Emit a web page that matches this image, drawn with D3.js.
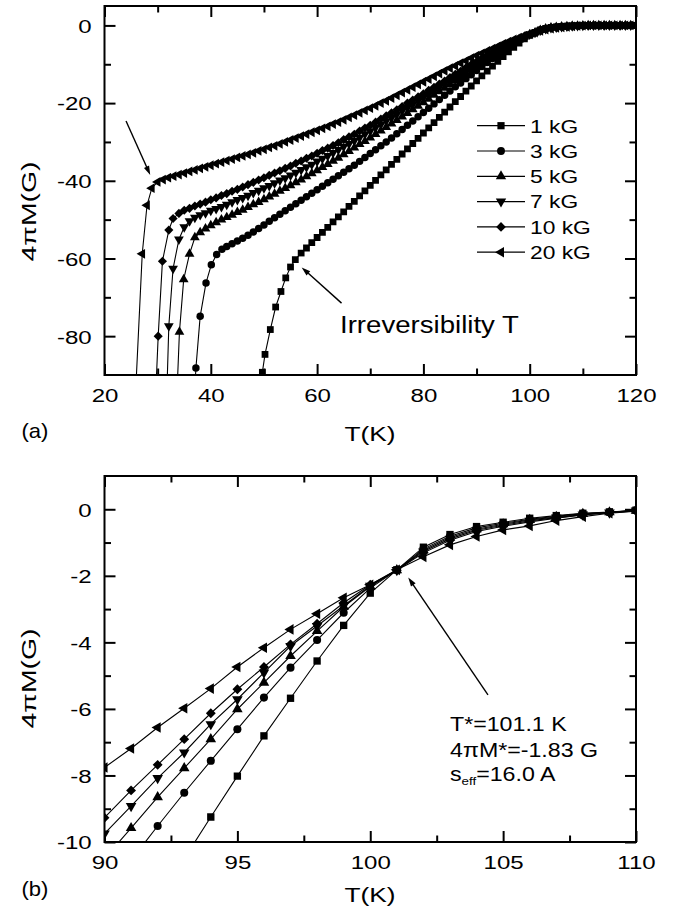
<!DOCTYPE html>
<html><head><meta charset="utf-8">
<script src="https://cdn.jsdelivr.net/npm/d3@7"></script>
<style>
body{margin:0;background:#fff}
svg{display:block}
text{font-family:"Liberation Sans",Arial,Helvetica,sans-serif;fill:#000}
</style>
</head><body>
<svg id="c" width="673" height="916"></svg>
<script>
// ---------------- DATA ----------------
const fields = ["1 kG", "3 kG", "5 kG", "7 kG", "10 kG", "20 kG"];

// Panel (a): low-temperature part [T (K), 4piM (G)]
const low1 = [[49.4,-96],[49.7,-89.3],[50.2,-84.7],[51.2,-78.3],[52.2,-72.5],[53.2,-68.5],[54.1,-65.0],[55.0,-62.2],[55.9,-60.3],
 [57,-58.6],[58,-57.3],[59,-55.9],[60,-54.6],[61,-53.3],[62,-52.0],[63,-50.6],[64,-49.3],[65,-48.0],[66,-46.6],[67,-45.3],
 [68,-43.9],[69,-42.6],[70,-41.2],[71,-39.9],[72,-38.5],[73,-37.2],[74,-35.8],[75,-34.5],[76,-33.1],[77,-31.8],[78,-30.4],
 [79,-29.1],[80,-27.7],[81,-26.4],[82,-25.0],[83,-23.7],[84,-22.3],[85,-21.0],[86,-19.6],[87,-18.3],[88,-16.9],[89,-15.6]];
const low3 = [[36.9,-96],[37.2,-88.2],[38.0,-74.9],[39.1,-66.3],[40.1,-61.6],[41.1,-59.0],[42.1,-57.6],
 [43,-56.9],[44,-56.2],[45,-55.5],[46,-54.8],[47,-54.0],[48,-53.2],[49,-52.3],[50,-51.4],[51,-50.4],[52,-49.5],[53,-48.6],
 [54,-47.7],[55,-46.8],[56,-45.9],[57,-45.0],[58,-44.1],[59,-43.2],[60,-42.3],[61,-41.4],[62,-40.5],[63,-39.6],[64,-38.7],
 [65,-37.8],[66,-36.9],[67,-36.0],[68,-35.0],[69,-34.0],[70,-33.0],[71,-32.0],[72,-31.0],[73,-30.0],[74,-29.0],[75,-27.9],
 [76,-26.8],[77,-25.7],[78,-24.6],[79,-23.5],[80,-22.4],[81,-21.3],[82,-20.2],[83,-19.1],[84,-18.0],[85,-16.9],[86,-15.8],
 [87,-14.8],[88,-13.7],[89,-12.7]];
const low5 = [[33.6,-96],[34.1,-78.9],[34.9,-65.4],[36.0,-58.8],[37.0,-54.6],
 [38,-53.3],[39,-52.3],[40,-51.5],[41,-50.7],[42,-50.0],[43,-49.4],[44,-48.8],[45,-48.1],[46,-47.5],[47,-46.8],[48,-46.1],
 [49,-45.5],[50,-44.8],[51,-44.1],[52,-43.4],[53,-42.6],[54,-41.9],[55,-41.2],[56,-40.4],[57,-39.7],[58,-38.9],[59,-38.1],
 [60,-37.3],[61,-36.5],[62,-35.7],[63,-34.9],[64,-34.1],[65,-33.2],[66,-32.4],[67,-31.5],[68,-30.6],[69,-29.8],[70,-28.9],
 [71,-28.0],[72,-27.1],[73,-26.2],[74,-25.3],[75,-24.4],[76,-23.5],[77,-22.6],[78,-21.6],[79,-20.7],[80,-19.8],[81,-18.9],
 [82,-17.9],[83,-17.0],[84,-16.1],[85,-15.2],[86,-14.2],[87,-13.3],[88,-12.4],[89,-11.4]];
const low7 = [[31.7,-96],[32.1,-77.4],[32.9,-62.6],[34.0,-55.1],[35.0,-51.9],[36.0,-50.4],
 [37,-49.5],[38,-48.8],[39,-48.3],[40,-47.7],[41,-47.2],[42,-46.7],[43,-46.1],[44,-45.5],[45,-44.9],[46,-44.4],[47,-43.8],
 [48,-43.1],[49,-42.5],[50,-41.9],[51,-41.3],[52,-40.6],[53,-39.9],[54,-39.3],[55,-38.6],[56,-37.9],[57,-37.2],[58,-36.5],
 [59,-35.8],[60,-35.0],[61,-34.3],[62,-33.6],[63,-32.8],[64,-32.0],[65,-31.2],[66,-30.5],[67,-29.7],[68,-28.9],[69,-28.0],
 [70,-27.2],[71,-26.3],[72,-25.5],[73,-24.6],[74,-23.8],[75,-22.9],[76,-22.0],[77,-21.2],[78,-20.3],[79,-19.4],[80,-18.6],
 [81,-17.7],[82,-16.8],[83,-15.9],[84,-15.0],[85,-14.2],[86,-13.3],[87,-12.4],[88,-11.5],[89,-10.6]];
const low10 = [[29.6,-96],[30.1,-80.0],[30.9,-60.7],[32.1,-52.7],[32.9,-49.7],
 [34,-48.4],[35,-47.6],[36,-47.1],[37,-46.5],[38,-46.0],[39,-45.5],[40,-44.9],[41,-44.4],[42,-43.8],[43,-43.3],[44,-42.7],
 [45,-42.2],[46,-41.6],[47,-41.0],[48,-40.4],[49,-39.8],[50,-39.2],[51,-38.6],[52,-38.0],[53,-37.4],[54,-36.8],[55,-36.2],
 [56,-35.5],[57,-34.9],[58,-34.2],[59,-33.6],[60,-32.9],[61,-32.2],[62,-31.6],[63,-30.9],[64,-30.2],[65,-29.4],[66,-28.7],
 [67,-28.0],[68,-27.2],[69,-26.4],[70,-25.7],[71,-24.9],[72,-24.1],[73,-23.3],[74,-22.5],[75,-21.7],[76,-20.9],[77,-20.0],
 [78,-19.2],[79,-18.4],[80,-17.6],[81,-16.7],[82,-15.9],[83,-15.1],[84,-14.3],[85,-13.4],[86,-12.6],[87,-11.8],[88,-10.9],
 [89,-10.1]];
const low20 = [[25.8,-96],[27.1,-58.8],[28.0,-46.3],[28.9,-41.9],
 [30,-40.3],[31,-39.7],[32,-39.2],[33,-38.8],[34,-38.4],[35,-38.0],[36,-37.6],[37,-37.2],[38,-36.8],[39,-36.4],[40,-36.0],
 [41,-35.6],[42,-35.2],[43,-34.8],[44,-34.4],[45,-34.0],[46,-33.6],[47,-33.2],[48,-32.8],[49,-32.3],[50,-31.9],[51,-31.4],
 [52,-31.0],[53,-30.5],[54,-30.0],[55,-29.5],[56,-29.0],[57,-28.5],[58,-28.0],[59,-27.5],[60,-27.0],[61,-26.5],[62,-26.0],
 [63,-25.4],[64,-24.9],[65,-24.3],[66,-23.7],[67,-23.1],[68,-22.5],[69,-21.9],[70,-21.3],[71,-20.7],[72,-20.0],[73,-19.4],
 [74,-18.7],[75,-18.0],[76,-17.3],[77,-16.6],[78,-15.9],[79,-15.2],[80,-14.5],[81,-13.8],[82,-13.1],[83,-12.4],[84,-11.7],
 [85,-11.0],[86,-10.4],[87,-9.7],[88,-9.1],[89,-8.4]];

// Region 90-110 K (panel b, also used in panel a)
const tempsB = [90,91,92,93,94,95,96,97,98,99,100,101,102,103,104,105,106,107,108,109,110];
const b1  = [-14.25,-13.0,-11.75,-10.5,-9.25,-8.02,-6.81,-5.68,-4.56,-3.49,-2.52,-1.82,-1.14,-0.76,-0.52,-0.39,-0.27,-0.19,-0.12,-0.08,-0.03];
const b3  = [-11.6,-10.55,-9.52,-8.52,-7.56,-6.61,-5.66,-4.76,-3.93,-3.11,-2.37,-1.83,-1.19,-0.81,-0.56,-0.42,-0.30,-0.21,-0.13,-0.09,-0.03];
const b5  = [-10.5,-9.58,-8.65,-7.78,-6.91,-6.01,-5.21,-4.41,-3.66,-2.93,-2.32,-1.83,-1.23,-0.85,-0.60,-0.45,-0.32,-0.23,-0.14,-0.09,-0.04];
const b7  = [-9.75,-8.92,-8.08,-7.31,-6.46,-5.71,-4.91,-4.11,-3.51,-2.90,-2.30,-1.83,-1.27,-0.89,-0.63,-0.48,-0.35,-0.25,-0.16,-0.10,-0.04];
const b10 = [-9.27,-8.45,-7.68,-6.91,-6.13,-5.41,-4.74,-4.06,-3.44,-2.81,-2.27,-1.83,-1.31,-0.93,-0.67,-0.51,-0.38,-0.27,-0.17,-0.10,-0.05];
const b20 = [-7.76,-7.19,-6.56,-5.98,-5.39,-4.74,-4.16,-3.61,-3.14,-2.66,-2.27,-1.82,-1.43,-1.07,-0.82,-0.62,-0.50,-0.34,-0.22,-0.12,-0.06];

// Plateau above Tc (panel a)
const plateauT = [111,112,113,114,115,116,117,118,119,120];
const plateauM = [0,0,0,0,0,0,0,0,0,0];

// Ticks
const aXTicks = [20,40,60,80,100,120], aXMinor = [30,50,70,90,110];
const aYTicks = [0,-20,-40,-60,-80],   aYMinor = [-10,-30,-50,-70];
const bXTicks = [90,95,100,105,110],   bXMinor = [92.5,97.5,102.5,107.5];
const bYTicks = [0,-2,-4,-6,-8,-10],   bYMinor = [-1,-3,-5,-7,-9];

// Annotations (data coordinates)
const annA1 = {from:[24.05,-24.6], to:[28.6,-38.5]};
const annA2 = {from:[64.6,-71.5], to:[57.1,-62.3]};
const annB  = {from:[104.43,-5.58], to:[101.43,-2.05]};

// ---------------- BUILD ----------------
const lows = [low1, low3, low5, low7, low10, low20];
const bvals = [b1, b3, b5, b7, b10, b20];
const seriesA = fields.map((f,i) => lows[i].concat(tempsB.map((t,j)=>[t,bvals[i][j]]), plateauT.map((t,j)=>[t,plateauM[j]])));
const seriesB = fields.map((f,i) => tempsB.map((t,j)=>[t,bvals[i][j]]));

const TRI = d3.symbolTriangle;
const shapes = [
  {type:d3.symbolSquare, rot:0,   k:1.0},
  {type:d3.symbolCircle, rot:0,   k:0.95},
  {type:TRI,             rot:0,   k:0.9},
  {type:TRI,             rot:180, k:0.9},
  {type:d3.symbolSquare, rot:45,  k:0.9},
  {type:TRI,             rot:-90, k:0.9}
];

const svg = d3.select("#c");
const xA = d3.scaleLinear().domain([20,120]).range([104.5,636]);
const yA = d3.scaleLinear().domain([-90,5]).range([375,6]);
const xB = d3.scaleLinear().domain([90,110]).range([104.5,636]);
const yB = d3.scaleLinear().domain([-10,1]).range([842,476]);

function label(g, x, y, str, o) {
  o = Object.assign({size:18.5, sx:1.3, anchor:"start", rot:0}, o||{});
  return g.append("text")
    .attr("transform", `translate(${x},${y}) rotate(${o.rot}) scale(${o.sx},1)`)
    .attr("font-size", o.size).attr("text-anchor", o.anchor).text(str);
}

function drawAxes(x, y, xMaj, xMin, yMaj, yMin, id) {
  const [x0,x1] = x.range(), [y1,y0] = y.range();
  const MAJ = 11, MIN = 6.5;
  const add = (fn, scale, vals, size, tr, withLabels) => {
    const a = fn(scale).tickValues(vals).tickSizeInner(-size).tickSizeOuter(0).tickPadding(0)
      .tickFormat(withLabels ? (d => String(d)) : (() => ""));
    const g = svg.append("g").attr("transform", tr).call(a);
    g.select(".domain").remove();
    g.selectAll("line").attr("stroke","#000").attr("stroke-width",2);
    g.attr("font-size", 18.5);
    return g;
  };
  const gb = add(d3.axisBottom, x, xMaj, MAJ, `translate(0,${y1})`, true);
  gb.selectAll("text").attr("y",0).attr("dy",0).attr("transform","translate(0,26.6) scale(1.3,1)").attr("text-anchor","middle");
  add(d3.axisBottom, x, xMin, MIN, `translate(0,${y1})`, false);
  add(d3.axisTop, x, xMaj, MAJ, `translate(0,${y0})`, false);
  add(d3.axisTop, x, xMin, MIN, `translate(0,${y0})`, false);
  const gl = add(d3.axisLeft, y, yMaj, MAJ, `translate(${x0},0)`, true);
  gl.selectAll("text").attr("x",0).attr("dy","0.37em").attr("transform","translate(-12.8,0) scale(1.3,1)").attr("text-anchor","end");
  add(d3.axisLeft, y, yMin, MIN, `translate(${x0},0)`, false);
  add(d3.axisRight, y, yMaj, MAJ, `translate(${x1},0)`, false);
  add(d3.axisRight, y, yMin, MIN, `translate(${x1},0)`, false);
  svg.append("rect").attr("x",x0).attr("y",y0).attr("width",x1-x0).attr("height",y1-y0)
    .attr("fill","none").attr("stroke","#000").attr("stroke-width",2);
  svg.append("clipPath").attr("id",id).append("rect")
    .attr("x",x0).attr("y",y0).attr("width",x1-x0).attr("height",y1-y0);
}

function drawSeries(series, x, y, clipId, base) {
  const g = svg.append("g").attr("clip-path", `url(#${clipId})`);
  const line = d3.line().x(d=>x(d[0])).y(d=>y(d[1]));
  series.forEach((s,i) => {
    g.append("path").attr("d", line(s)).attr("fill","none").attr("stroke","#000").attr("stroke-width",1.1);
  });
  series.forEach((s,i) => {
    const sh = shapes[i];
    const p = d3.symbol(sh.type, base*sh.k)();
    g.selectAll(null).data(s).enter().append("path")
      .attr("d", p).attr("fill","#000")
      .attr("transform", d => `translate(${x(d[0])},${y(d[1])}) rotate(${sh.rot})`);
  });
}

function arrow(x, y, ann) {
  const tx = x(ann.from[0]), ty = y(ann.from[1]), hx = x(ann.to[0]), hy = y(ann.to[1]);
  const dx = hx-tx, dy = hy-ty, L = Math.hypot(dx,dy), ux = dx/L, uy = dy/L;
  const AL = 9, AW = 2.8;
  const bx = hx-ux*AL, by = hy-uy*AL;
  svg.append("line").attr("x1",tx).attr("y1",ty).attr("x2",bx+ux*2).attr("y2",by+uy*2)
    .attr("stroke","#000").attr("stroke-width",1.4);
  svg.append("path").attr("d", `M${hx},${hy}L${bx-uy*AW},${by+ux*AW}L${bx+uy*AW},${by-ux*AW}Z`).attr("fill","#000");
}

// Panel (a)
drawAxes(xA, yA, aXTicks, aXMinor, aYTicks, aYMinor, "clipA");
drawSeries(seriesA, xA, yA, "clipA", 46);
arrow(xA, yA, annA1);
arrow(xA, yA, annA2);
label(svg, 340, 333.3, "Irreversibility T", {size:24, sx:1.15});

// Legend
const lg = svg.append("g");
fields.forEach((f,i) => {
  const yy = 125.7 + i*25.3;
  lg.append("line").attr("x1",477).attr("x2",525).attr("y1",yy).attr("y2",yy).attr("stroke","#000").attr("stroke-width",1.2);
  const sh = shapes[i];
  lg.append("path").attr("d", d3.symbol(sh.type, 52*sh.k)()).attr("fill","#000")
    .attr("transform", `translate(501,${yy}) rotate(${sh.rot})`);
  label(lg, 530, yy+6.8, f, {size:19, sx:1.2});
});

label(svg, 370, 441, "T(K)", {size:21, sx:1.25, anchor:"middle"});
label(svg, 36, 211.5, "4\u03c0M(G)", {size:21, sx:1.35, anchor:"middle", rot:-90});
label(svg, 21.5, 437.5, "(a)", {size:20, sx:1.1});

// Panel (b)
drawAxes(xB, yB, bXTicks, bXMinor, bYTicks, bYMinor, "clipB");
drawSeries(seriesB, xB, yB, "clipB", 54);
arrow(xB, yB, annB);
label(svg, 450, 731, "T*=101.1 K", {size:20, sx:1.16});
label(svg, 450, 756.7, "4\u03c0M*=-1.83 G", {size:20, sx:1.16});
const t3 = label(svg, 450, 780.7, "", {size:20, sx:1.16});
t3.append("tspan").text("s");
t3.append("tspan").attr("font-size",11.5).attr("dy",4.5).text("eff");
t3.append("tspan").attr("dy",-4.5).text("=16.0 A");

label(svg, 370, 901.7, "T(K)", {size:21, sx:1.25, anchor:"middle"});
label(svg, 36, 678.5, "4\u03c0M(G)", {size:21, sx:1.35, anchor:"middle", rot:-90});
label(svg, 21.5, 896, "(b)", {size:20, sx:1.1});
</script>
</body></html>
